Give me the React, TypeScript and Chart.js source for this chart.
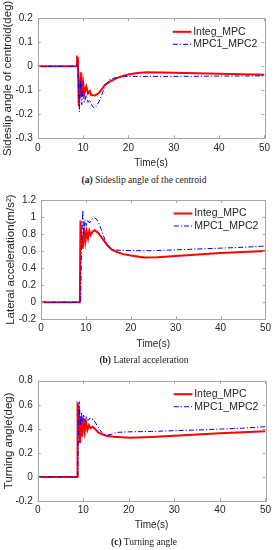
import React, { useEffect, useRef } from "react";
import { Chart, registerables } from "chart.js";

Chart.register(...registerables);

// ---------- data ----------
const seriesNames = ["Integ_MPC", "MPC1_MPC2"];
const timeTicks = [0, 10, 20, 30, 40, 50];

// (a) sideslip angle
const sideslipTicks = [-0.3, -0.2, -0.1, 0, 0.1, 0.2];
const sideslipIntegT = [0, 8.65, 8.7, 8.85, 9.05, 9.3, 9.5, 9.7, 10.0, 10.3, 10.7, 11.1, 11.5, 11.8, 12.6, 13.3, 14.0, 14.8, 15.9, 17.3, 18.8, 20.2, 22, 24, 27, 30, 35, 40, 45, 50];
const sideslipIntegV = [0, 0, 0.038, 0.035, -0.165, -0.09, -0.025, -0.127, -0.064, -0.113, -0.085, -0.113, -0.103, -0.12, -0.122, -0.114, -0.099, -0.078, -0.064, -0.05, -0.04, -0.033, -0.028, -0.025, -0.026, -0.027, -0.029, -0.031, -0.033, -0.035];
const sideslipMpcT = [0, 8.75, 8.8, 8.95, 9.2, 9.45, 9.7, 10.0, 10.3, 10.7, 11.1, 11.5, 12.0, 12.5, 13.0, 13.7, 14.4, 15.1, 15.9, 17.0, 18.5, 20, 30, 40, 50];
const sideslipMpcV = [0, 0, 0.03, -0.05, -0.19, -0.06, -0.16, -0.1, -0.15, -0.12, -0.15, -0.14, -0.165, -0.175, -0.165, -0.14, -0.105, -0.075, -0.055, -0.048, -0.044, -0.042, -0.042, -0.041, -0.04];

// (b) lateral acceleration
const latAccTicks = [-0.2, 0, 0.2, 0.4, 0.6, 0.8, 1, 1.2];
const latAccIntegT = [0, 8.65, 8.8, 9.0, 9.3, 9.58, 9.87, 10.17, 10.47, 10.76, 11.06, 11.5, 12.0, 12.8, 13.5, 14.6, 15.7, 16.9, 18.3, 20, 23, 26, 30, 35, 40, 45, 50];
const latAccIntegV = [0, 0, 0.96, 0.75, 0.63, 0.88, 0.71, 0.83, 0.75, 0.84, 0.79, 0.83, 0.845, 0.81, 0.76, 0.68, 0.62, 0.59, 0.565, 0.548, 0.525, 0.528, 0.543, 0.56, 0.578, 0.59, 0.602];
const latAccMpcT = [0, 8.85, 9.0, 9.3, 9.5, 9.8, 10.1, 10.4, 10.8, 11.2, 11.8, 12.3, 12.8, 13.5, 14.2, 14.9, 15.7, 16.9, 20, 25, 30, 35, 40, 45, 50];
const latAccMpcV = [0, 0, 0.6, 1.08, 0.8, 0.97, 0.9, 0.97, 0.93, 0.97, 0.99, 0.98, 0.94, 0.84, 0.74, 0.66, 0.625, 0.612, 0.606, 0.605, 0.615, 0.625, 0.635, 0.645, 0.66];

// (c) turning angle
const turnTicks = [-0.2, 0, 0.2, 0.4, 0.6, 0.8];
const turnIntegT = [0, 8.65, 8.75, 9.0, 9.28, 9.5, 9.71, 10.0, 10.3, 10.6, 10.9, 11.25, 11.6, 12.06, 12.57, 13.3, 14.0, 15.1, 16.6, 20.2, 25, 30, 35, 40, 45, 50];
const turnIntegV = [0, 0, 0.6, 0.58, 0.28, 0.5, 0.334, 0.487, 0.376, 0.459, 0.39, 0.431, 0.404, 0.417, 0.4, 0.37, 0.356, 0.343, 0.334, 0.326, 0.332, 0.342, 0.353, 0.364, 0.372, 0.38];
const turnMpcT = [0, 8.8, 8.9, 9.1, 9.4, 9.6, 9.8, 10.1, 10.4, 10.8, 11.1, 11.5, 12.3, 13.0, 13.7, 14.4, 15.1, 16.2, 17.3, 20, 25, 30, 35, 40, 45, 50];
const turnMpcV = [0, 0, 0.3, 0.625, 0.43, 0.54, 0.46, 0.52, 0.46, 0.5, 0.47, 0.49, 0.475, 0.43, 0.39, 0.357, 0.348, 0.355, 0.37, 0.375, 0.378, 0.385, 0.39, 0.398, 0.405, 0.418];

// ---------- styling ----------
const FONT = "'Liberation Sans', Arial, Helvetica, sans-serif";
const TEXT = "#262626";
const FRAME = "#a6a6a6";
const RED = "#ff0000";
const BLUE = "#0000ff";

const pts = (ts: number[], vs: number[]) => ts.map((t, i) => ({ x: t, y: vs[i] }));

type PanelCfg = {
  top: number;
  height: number;
  padTop: number;
  padRight: number;
  yAxisWidth: number;
  xAxisHeight: number;
  xTickPad: number;
  xTitlePad: number;
  yTitlePad: number;
  yTicks: number[];
  yTitle: string;
  integT: number[];
  integV: number[];
  mpcT: number[];
  mpcV: number[];
  caption: string;
  captionLetter: string;
  captionTop: number;
};

const boxPlugin = {
  id: "matlabBox",
  afterDraw(chart: any) {
    const { ctx, chartArea } = chart;
    const { left, right, top, bottom } = chartArea;
    const xs = chart.scales.x;
    const ys = chart.scales.y;
    ctx.save();
    ctx.strokeStyle = FRAME;
    ctx.lineWidth = 1;
    ctx.beginPath();
    ctx.rect(Math.round(left) + 0.5, Math.round(top) + 0.5, Math.round(right - left), Math.round(bottom - top));
    ctx.stroke();
    const tl = 3;
    ctx.beginPath();
    xs.ticks.forEach((t: any) => {
      const px = Math.round(xs.getPixelForValue(t.value)) + 0.5;
      ctx.moveTo(px, bottom);
      ctx.lineTo(px, bottom - tl);
      ctx.moveTo(px, top);
      ctx.lineTo(px, top + tl);
    });
    ys.ticks.forEach((t: any) => {
      const py = Math.round(ys.getPixelForValue(t.value)) + 0.5;
      ctx.moveTo(left, py);
      ctx.lineTo(left + tl, py);
      ctx.moveTo(right, py);
      ctx.lineTo(right - tl, py);
    });
    ctx.stroke();

    // legend inside, upper right
    const items = chart.data.datasets;
    const rows = [top + 13.5, top + 26];
    const x1 = right - 91.7;
    const x2 = right - 73;
    const tx = right - 71.3;
    ctx.font = `10.5px ${FONT}`;
    ctx.textBaseline = "middle";
    ctx.textAlign = "left";
    seriesNames.forEach((name, i) => {
      const ds = items.find((d: any) => d.label === name);
      const y = rows[i];
      ctx.save();
      ctx.strokeStyle = ds.borderColor;
      ctx.lineWidth = ds.borderWidth;
      ctx.setLineDash(ds.borderDash || []);
      ctx.beginPath();
      ctx.moveTo(x1, y);
      ctx.lineTo(x2, y);
      ctx.stroke();
      ctx.restore();
      ctx.fillStyle = TEXT;
      ctx.fillText(name, tx, y);
    });
    ctx.restore();
  },
};

function Panel({ cfg }: { cfg: PanelCfg }) {
  const ref = useRef<HTMLCanvasElement | null>(null);
  useEffect(() => {
    if (!ref.current) return;
    const chart = new Chart(ref.current, {
      type: "line",
      data: {
        datasets: [
          {
            label: seriesNames[0],
            data: pts(cfg.integT, cfg.integV),
            borderColor: RED,
            backgroundColor: RED,
            borderWidth: 2,
            pointRadius: 0,
            tension: 0,
            order: 2,
          },
          {
            label: seriesNames[1],
            data: pts(cfg.mpcT, cfg.mpcV),
            borderColor: BLUE,
            backgroundColor: BLUE,
            borderWidth: 1,
            borderDash: [5, 2, 1.2, 2],
            pointRadius: 0,
            tension: 0,
            order: 1,
          },
        ],
      },
      options: {
        animation: false,
        responsive: false,
        maintainAspectRatio: false,
        layout: { padding: { top: cfg.padTop, right: cfg.padRight, left: 0, bottom: 0 } },
        plugins: { legend: { display: false }, tooltip: { enabled: false }, title: { display: false } },
        scales: {
          x: {
            type: "linear",
            min: timeTicks[0],
            max: timeTicks[timeTicks.length - 1],
            grid: { display: false, drawTicks: false },
            border: { display: false },
            afterBuildTicks: (s: any) => {
              s.ticks = timeTicks.map((v) => ({ value: v }));
            },
            afterFit: (s: any) => {
              s.height = cfg.xAxisHeight;
            },
            ticks: {
              color: TEXT,
              font: { family: FONT, size: 10 },
              padding: cfg.xTickPad,
              maxRotation: 0,
              autoSkip: false,
              callback: (v: any) => String(v),
            },
            title: {
              display: true,
              text: "Time(s)",
              color: TEXT,
              font: { family: FONT, size: 10 },
              padding: { top: 0, bottom: cfg.xTitlePad },
            },
          },
          y: {
            type: "linear",
            min: cfg.yTicks[0],
            max: cfg.yTicks[cfg.yTicks.length - 1],
            grid: { display: false, drawTicks: false },
            border: { display: false },
            afterBuildTicks: (s: any) => {
              s.ticks = cfg.yTicks.map((v) => ({ value: v }));
            },
            afterFit: (s: any) => {
              s.width = cfg.yAxisWidth;
            },
            ticks: {
              color: TEXT,
              font: { family: FONT, size: 10 },
              padding: 5,
              autoSkip: false,
              callback: (v: any) => String(v),
            },
            title: {
              display: true,
              text: cfg.yTitle,
              color: TEXT,
              font: { family: FONT, size: 11.5 },
              padding: { top: cfg.yTitlePad, bottom: 0 },
            },
          },
        },
      },
      plugins: [boxPlugin],
    } as any);
    return () => chart.destroy();
  }, [cfg]);

  return (
    <>
      <canvas
        ref={ref}
        width={274}
        height={cfg.height}
        style={{ position: "absolute", left: 0, top: cfg.top, width: 274, height: cfg.height }}
      />
      <div
        style={{
          position: "absolute",
          left: 7,
          top: cfg.captionTop,
          width: 274,
          textAlign: "center",
          fontFamily: "'Liberation Serif', 'Times New Roman', serif",
          fontSize: "9.5px",
          lineHeight: "12px",
          color: "#222",
          whiteSpace: "nowrap",
        }}
      >
        <b>{cfg.captionLetter}</b> {cfg.caption}
      </div>
    </>
  );
}

const panels: PanelCfg[] = [
  {
    top: 0,
    height: 172,
    padTop: 18.3,
    padRight: 8.3,
    yAxisWidth: 37.7,
    xAxisHeight: 33.7,
    xTickPad: 4,
    xTitlePad: 3,
    yTitlePad: 0.5,
    yTicks: sideslipTicks,
    yTitle: "Sideslip angle of centroid(deg)",
    integT: sideslipIntegT,
    integV: sideslipIntegV,
    mpcT: sideslipMpcT,
    mpcV: sideslipMpcV,
    captionLetter: "(a)",
    caption: "Sideslip angle of the centroid",
    captionTop: 174,
  },
  {
    top: 184,
    height: 172,
    padTop: 16,
    padRight: 8.3,
    yAxisWidth: 41,
    xAxisHeight: 36.7,
    xTickPad: 3,
    xTitlePad: 6,
    yTitlePad: 4,
    yTicks: latAccTicks,
    yTitle: "Lateral acceleration(m/s\u00B2)",
    integT: latAccIntegT,
    integV: latAccIntegV,
    mpcT: latAccMpcT,
    mpcV: latAccMpcV,
    captionLetter: "(b)",
    caption: "Lateral acceleration",
    captionTop: 354,
  },
  {
    top: 364,
    height: 172,
    padTop: 16.7,
    padRight: 8.3,
    yAxisWidth: 37.7,
    xAxisHeight: 35,
    xTickPad: 3,
    xTitlePad: 4.3,
    yTitlePad: 2,
    yTicks: turnTicks,
    yTitle: "Turning angle(deg)",
    integT: turnIntegT,
    integV: turnIntegV,
    mpcT: turnMpcT,
    mpcV: turnMpcV,
    captionLetter: "(c)",
    caption: "Turning angle",
    captionTop: 536,
  },
];

export default function App() {
  return (
    <div style={{ position: "absolute", left: 0, top: 0, width: 274, height: 550, background: "#fff", overflow: "hidden" }}>
      {panels.map((p, i) => (
        <Panel key={i} cfg={p} />
      ))}
    </div>
  );
}
